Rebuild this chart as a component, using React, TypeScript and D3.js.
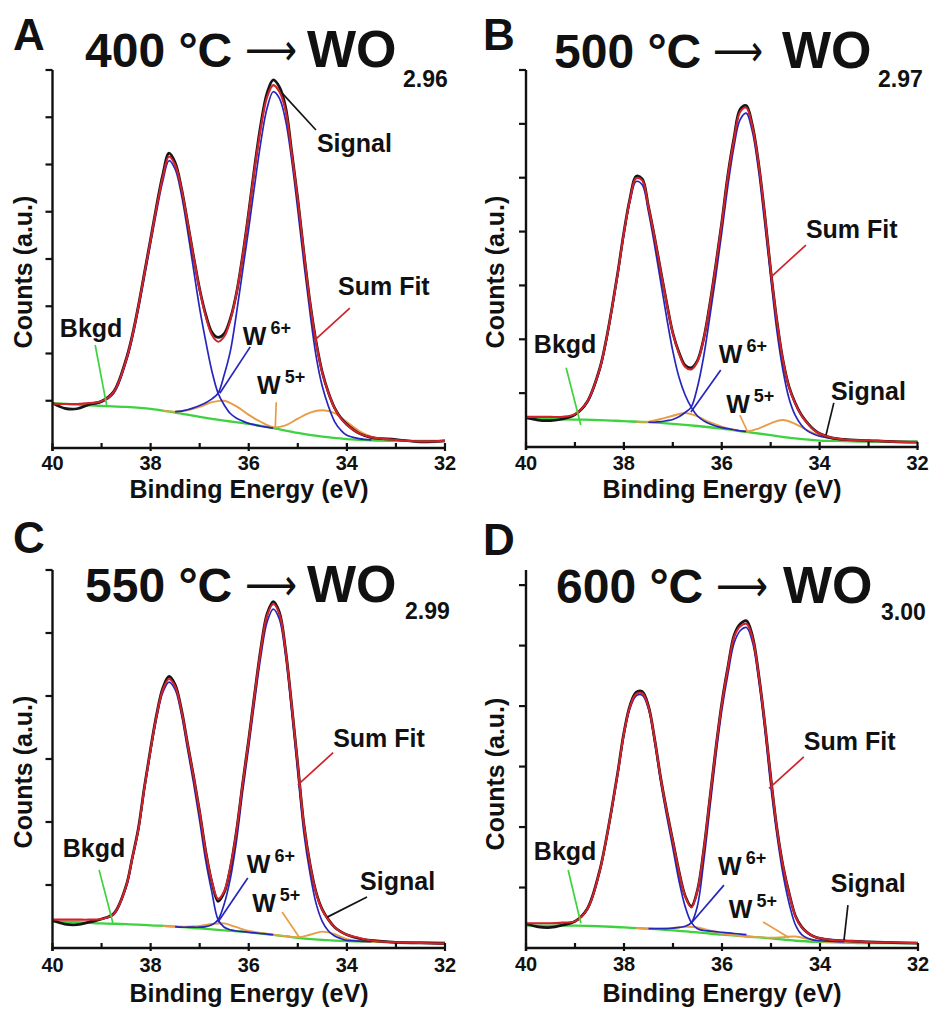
import React from "react";
import * as d3 from "d3";

// ---------- shared energy grids (eV) ----------
const energy = [40, 39.75, 39.5, 39.25, 39, 38.75, 38.5, 38.375, 38.25, 38.125, 38, 37.875, 37.75, 37.625, 37.5, 37.375, 37.25, 37.125, 37, 36.875, 36.75, 36.625, 36.5, 36.375, 36.25, 36.125, 36, 35.875, 35.75, 35.625, 35.5, 35.375, 35.25, 35.125, 35, 34.875, 34.75, 34.625, 34.5, 34.375, 34.25, 34.125, 34, 33.75, 33.5, 33, 32.5, 32];
const bkgdEnergy = [40, 39.5, 39, 38.5, 38, 37.5, 37, 36.5, 36, 35.5, 35, 34.5, 34, 33.5, 33, 32.5, 32];
const w5Energy = [37.75, 37.5, 37.25, 37, 36.75, 36.5, 36.25, 36, 35.75, 35.5, 35.25, 35, 34.75, 34.5, 34.25, 34, 33.75, 33.5, 33.25];
const xTicksMajor = [40, 38, 36, 34, 32];
const xTicksMinor = [39, 37, 35, 33];
const N = null;

// ---------- Panel A : 400 °C ----------
const sumFitA = [0.94, 0.93, 0.93, 0.95, 0.99, 1.19, 1.86, 2.36, 2.99, 3.70, 4.40, 5.11, 5.74, 6.17, 5.99, 5.50, 4.79, 4.05, 3.34, 2.78, 2.39, 2.25, 2.36, 2.71, 3.27, 4.05, 4.97, 5.95, 6.80, 7.43, 7.68, 7.54, 7.15, 6.24, 5.25, 4.12, 3.06, 2.22, 1.58, 1.16, 0.84, 0.63, 0.49, 0.31, 0.23, 0.17, 0.14, 0.15];
const signalA = [0.95, 0.84, 0.83, 0.92, 0.99, 1.20, 1.88, 2.38, 3.01, 3.72, 4.43, 5.15, 5.80, 6.24, 6.04, 5.52, 4.80, 4.06, 3.36, 2.82, 2.45, 2.34, 2.42, 2.74, 3.28, 4.07, 5.00, 6.00, 6.88, 7.52, 7.79, 7.64, 7.22, 6.28, 5.27, 4.13, 3.08, 2.24, 1.60, 1.17, 0.85, 0.64, 0.50, 0.31, 0.22, 0.18, 0.13, 0.15];
const w6LowA = [N, N, N, 0.92, 0.97, 1.16, 1.82, 2.31, 2.93, 3.63, 4.33, 5.03, 5.66, 6.08, 5.90, 5.38, 4.62, 3.78, 2.95, 2.25, 1.62, 1.16, 0.91, 0.73, 0.63, 0.57, 0.52, 0.49, 0.46, 0.44, 0.42, N, N, N, N, N, N, N, N, N, N, N, N, N, N, N, N, N];
const w6HighA = [N, N, N, N, N, N, N, N, N, N, N, N, N, N, 0.77, 0.78, 0.81, 0.85, 0.90, 0.96, 1.04, 1.16, 1.55, 2.05, 2.85, 3.75, 4.65, 5.60, 6.50, 7.20, 7.54, 7.40, 6.94, 6.10, 5.04, 3.91, 2.85, 1.93, 1.30, 0.88, 0.56, 0.38, 0.27, 0.20, 0.17, N, N, N];
const w5A = [0.79, 0.77, 0.80, 0.87, 0.97, 1.00, 0.88, 0.70, 0.55, 0.44, 0.48, 0.62, 0.75, 0.80, 0.74, 0.55, 0.36, 0.24, 0.18];
const bkgdA = [0.95, 0.92, 0.89, 0.87, 0.83, 0.75, 0.66, 0.58, 0.51, 0.42, 0.32, 0.24, 0.19, 0.16, 0.15, 0.15, 0.15];

// ---------- Panel B : 500 °C ----------
const sumFitB = [0.56, 0.56, 0.56, 0.56, 0.61, 0.84, 1.43, 1.92, 2.54, 3.22, 3.97, 4.59, 4.99, 4.95, 4.46, 3.90, 3.28, 2.67, 2.11, 1.74, 1.49, 1.44, 1.58, 1.98, 2.60, 3.34, 4.15, 5.02, 5.70, 6.22, 6.30, 5.95, 5.27, 4.34, 3.28, 2.35, 1.61, 1.11, 0.81, 0.59, 0.44, 0.32, 0.25, 0.17, 0.14, 0.12, 0.10, 0.09];
const signalB = [0.55, 0.50, 0.49, 0.52, 0.60, 0.84, 1.44, 1.93, 2.55, 3.24, 3.99, 4.62, 5.03, 4.98, 4.48, 3.91, 3.29, 2.68, 2.12, 1.76, 1.52, 1.47, 1.60, 1.99, 2.62, 3.36, 4.17, 5.05, 5.74, 6.27, 6.34, 5.98, 5.29, 4.35, 3.29, 2.36, 1.62, 1.12, 0.82, 0.60, 0.45, 0.33, 0.25, 0.17, 0.14, 0.12, 0.10, 0.09];
const w6LowB = [N, N, N, 0.55, 0.60, 0.82, 1.40, 1.89, 2.51, 3.19, 3.94, 4.56, 4.93, 4.87, 4.38, 3.76, 3.08, 2.40, 1.78, 1.30, 0.97, 0.74, 0.58, 0.49, 0.43, 0.39, 0.36, 0.34, 0.32, 0.30, 0.29, N, N, N, N, N, N, N, N, N, N, N, N, N, N, N, N, N];
const w6HighB = [N, N, N, N, N, N, N, N, N, N, N, N, N, N, 0.46, 0.46, 0.47, 0.49, 0.51, 0.56, 0.64, 0.74, 1.10, 1.65, 2.38, 3.15, 3.98, 4.85, 5.58, 6.08, 6.20, 5.86, 5.15, 4.18, 3.16, 2.17, 1.43, 0.90, 0.59, 0.41, 0.30, 0.24, 0.20, 0.16, 0.14, N, N, N];
const w5B = [0.47, 0.47, 0.52, 0.58, 0.63, 0.57, 0.46, 0.38, 0.32, 0.29, 0.34, 0.44, 0.50, 0.43, 0.31, 0.21, 0.16, 0.13, 0.12];
const bkgdB = [0.53, 0.52, 0.51, 0.50, 0.48, 0.46, 0.43, 0.39, 0.34, 0.28, 0.22, 0.16, 0.12, 0.11, 0.10, 0.10, 0.10];

// ---------- Panel C : 550 °C ----------
const sumFitC = [0.45, 0.45, 0.45, 0.45, 0.46, 0.54, 0.98, 1.42, 1.88, 2.55, 3.15, 3.70, 4.10, 4.27, 4.15, 3.78, 3.25, 2.72, 2.15, 1.52, 1.05, 0.78, 0.90, 1.28, 1.85, 2.60, 3.30, 4.05, 4.75, 5.28, 5.46, 5.30, 4.72, 3.85, 2.90, 1.95, 1.32, 0.87, 0.60, 0.45, 0.33, 0.26, 0.21, 0.16, 0.12, 0.09, 0.08, 0.07];
const signalC = [0.44, 0.38, 0.37, 0.41, 0.46, 0.55, 0.99, 1.43, 1.90, 2.57, 3.17, 3.72, 4.13, 4.31, 4.18, 3.80, 3.26, 2.73, 2.16, 1.53, 1.04, 0.74, 0.88, 1.27, 1.86, 2.61, 3.32, 4.07, 4.78, 5.31, 5.50, 5.33, 4.74, 3.86, 2.91, 1.96, 1.33, 0.88, 0.61, 0.45, 0.33, 0.26, 0.21, 0.15, 0.12, 0.09, 0.08, 0.07];
const w6LowC = [N, N, N, 0.44, 0.46, 0.53, 0.96, 1.40, 1.86, 2.52, 3.12, 3.66, 4.06, 4.22, 4.10, 3.72, 3.17, 2.62, 2.02, 1.38, 0.88, 0.45, 0.33, 0.29, 0.27, 0.26, 0.25, 0.24, 0.23, 0.22, 0.21, N, N, N, N, N, N, N, N, N, N, N, N, N, N, N, N, N];
const w6HighC = [N, N, N, N, N, N, N, N, N, N, N, N, N, N, 0.34, 0.33, 0.33, 0.33, 0.33, 0.34, 0.37, 0.45, 0.70, 1.10, 1.70, 2.48, 3.20, 3.95, 4.65, 5.18, 5.38, 5.22, 4.64, 3.75, 2.78, 1.82, 1.18, 0.70, 0.42, 0.27, 0.19, 0.15, 0.12, 0.11, 0.10, N, N, N];
const w5C = [0.35, 0.34, 0.34, 0.35, 0.38, 0.39, 0.33, 0.27, 0.24, 0.21, 0.19, 0.17, 0.21, 0.26, 0.22, 0.14, 0.11, 0.10, 0.10];
const bkgdC = [0.42, 0.41, 0.39, 0.38, 0.36, 0.34, 0.31, 0.28, 0.25, 0.21, 0.16, 0.13, 0.11, 0.10, 0.09, 0.09, 0.09];

// ---------- Panel D : 600 °C ----------
const sumFitD = [0.41, 0.41, 0.41, 0.42, 0.44, 0.64, 1.26, 1.74, 2.30, 2.90, 3.55, 4.00, 4.20, 4.21, 3.98, 3.45, 2.80, 2.25, 1.75, 1.25, 0.85, 0.67, 0.95, 1.60, 2.45, 3.30, 4.05, 4.65, 5.15, 5.32, 5.36, 5.12, 4.50, 3.70, 2.78, 1.95, 1.33, 0.88, 0.52, 0.34, 0.25, 0.19, 0.16, 0.13, 0.12, 0.10, 0.09, 0.08];
const signalD = [0.40, 0.35, 0.34, 0.38, 0.44, 0.65, 1.27, 1.75, 2.31, 2.92, 3.57, 4.02, 4.23, 4.24, 4.00, 3.46, 2.81, 2.26, 1.76, 1.26, 0.86, 0.69, 0.96, 1.61, 2.46, 3.31, 4.07, 4.67, 5.18, 5.36, 5.41, 5.15, 4.52, 3.71, 2.79, 1.96, 1.34, 0.89, 0.53, 0.35, 0.25, 0.19, 0.16, 0.13, 0.12, 0.10, 0.09, 0.08];
const w6LowD = [N, N, N, 0.41, 0.44, 0.63, 1.24, 1.72, 2.27, 2.88, 3.52, 3.97, 4.17, 4.18, 3.95, 3.40, 2.74, 2.17, 1.64, 1.10, 0.68, 0.42, 0.32, 0.29, 0.28, 0.27, 0.26, 0.25, 0.24, 0.23, 0.22, N, N, N, N, N, N, N, N, N, N, N, N, N, N, N, N, N];
const w6HighD = [N, N, N, N, N, N, N, N, N, N, N, N, N, N, 0.32, 0.32, 0.32, 0.32, 0.33, 0.34, 0.36, 0.42, 0.70, 1.42, 2.30, 3.18, 3.95, 4.55, 5.05, 5.25, 5.30, 5.05, 4.42, 3.60, 2.65, 1.85, 1.20, 0.72, 0.38, 0.22, 0.16, 0.13, 0.12, 0.11, 0.10, N, N, N];
const w5D = [0.33, 0.32, 0.32, 0.33, 0.35, 0.34, 0.29, 0.24, 0.21, 0.19, 0.18, 0.17, 0.18, 0.19, 0.15, 0.11, 0.10, 0.09, 0.09];
const bkgdD = [0.37, 0.37, 0.37, 0.36, 0.34, 0.32, 0.29, 0.26, 0.22, 0.19, 0.16, 0.12, 0.10, 0.09, 0.08, 0.08, 0.08];

// ---------- panel titles ----------
const panelLetters = ["A", "B", "C", "D"];
const temperatures = ["400", "500", "550", "600"];
const stoichiometry = ["2.96", "2.97", "2.99", "3.00"];

const FONT = "'Liberation Sans', Arial, Helvetica, sans-serif";
const COL = {
  signal: "#151515",
  fit: "#d2222a",
  w6: "#2626bd",
  w5: "#e89d45",
  bkgd: "#3ed23e",
};

type Ann = { key: string; text: string; sup?: string; at: [number, number]; from: [number, number]; to: [number, number] };

const panels = [
  {
    i: 0, x0: 52.5, x1: 445, yTop: 70, yBottom: 448, yMax: 8, yTicks: [1, 2, 3, 4, 5, 6, 7, 8],
    data: { signal: signalA, fit: sumFitA, w6a: w6LowA, w6b: w6HighA, w5: w5A, bkgd: bkgdA },
    letterPos: [13, 50], title: { x: 85, arrow: 245, arrowW: 52, wo: 307, sub: 403, base: 67, subBase: 87 },
    yTitle: [32, 272], xTitle: [249, 498], tickBase: 470,
    ann: [
      { key: "signal", text: "Signal", at: [34.61, 6.26], from: [34.63, 6.73], to: [35.32, 7.51] },
      { key: "fit", text: "Sum Fit", at: [34.18, 3.24], from: [33.94, 2.96], to: [34.65, 2.29] },
      { key: "w6", text: "W", sup: "6+", at: [36.12, 2.18], from: [35.97, 2.14], to: [36.59, 1.16] },
      { key: "w5", text: "W", sup: "5+", at: [35.83, 1.14], from: [35.44, 0.97], to: [35.46, 0.42] },
      { key: "bkgd", text: "Bkgd", at: [39.85, 2.35], from: [39.13, 2.18], to: [38.89, 0.87] },
    ] as Ann[],
  },
  {
    i: 1, x0: 526, x1: 917.5, yTop: 70, yBottom: 447, yMax: 7, yTicks: [1, 2, 3, 4, 5, 6, 7],
    data: { signal: signalB, fit: sumFitB, w6a: w6LowB, w6b: w6HighB, w5: w5B, bkgd: bkgdB },
    letterPos: [483, 50], title: { x: 554, arrow: 713, arrowW: 50, wo: 782, sub: 878, base: 68, subBase: 87 },
    yTitle: [504, 272], xTitle: [722, 498], tickBase: 470,
    ann: [
      { key: "fit", text: "Sum Fit", at: [34.28, 3.88], from: [34.28, 3.75], to: [34.99, 3.16] },
      { key: "bkgd", text: "Bkgd", at: [39.84, 1.75], from: [39.18, 1.47], to: [38.88, 0.41] },
      { key: "w6", text: "W", sup: "6+", at: [36.06, 1.56], from: [36.02, 1.43], to: [36.63, 0.65] },
      { key: "w5", text: "W", sup: "5+", at: [35.91, 0.63], from: [35.63, 0.59], to: [35.46, 0.26] },
      { key: "signal", text: "Signal", at: [33.77, 0.87], from: [33.71, 0.82], to: [33.87, 0.22] },
    ] as Ann[],
  },
  {
    i: 2, x0: 52.5, x1: 445, yTop: 570, yBottom: 948, yMax: 6, yTicks: [1, 2, 3, 4, 5, 6],
    data: { signal: signalC, fit: sumFitC, w6a: w6LowC, w6b: w6HighC, w5: w5C, bkgd: bkgdC },
    letterPos: [13, 553], title: { x: 85, arrow: 245, arrowW: 52, wo: 307, sub: 405, base: 602, subBase: 619 },
    yTitle: [32, 772], xTitle: [249, 1002], tickBase: 972,
    ann: [
      { key: "fit", text: "Sum Fit", at: [34.28, 3.19], from: [34.28, 3.10], to: [35.0, 2.59] },
      { key: "bkgd", text: "Bkgd", at: [39.79, 1.44], from: [39.05, 1.24], to: [38.77, 0.40] },
      { key: "w6", text: "W", sup: "6+", at: [36.04, 1.19], from: [36.02, 1.11], to: [36.63, 0.41] },
      { key: "w5", text: "W", sup: "5+", at: [35.93, 0.57], from: [35.32, 0.57], to: [34.96, 0.16] },
      { key: "signal", text: "Signal", at: [33.73, 0.92], from: [33.59, 0.81], to: [34.40, 0.49] },
    ] as Ann[],
  },
  {
    i: 3, x0: 526, x1: 918, yTop: 570, yBottom: 948, yMax: 6.25, yTicks: [1, 2, 3, 4, 5, 6],
    data: { signal: signalD, fit: sumFitD, w6a: w6LowD, w6b: w6HighD, w5: w5D, bkgd: bkgdD },
    letterPos: [483, 555], title: { x: 556, arrow: 716, arrowW: 52, wo: 783, sub: 881, base: 603, subBase: 620 },
    yTitle: [504, 774], xTitle: [722, 1002], tickBase: 971,
    ann: [
      { key: "fit", text: "Sum Fit", at: [34.33, 3.27], from: [34.33, 3.16], to: [35.04, 2.64] },
      { key: "bkgd", text: "Bkgd", at: [39.84, 1.45], from: [39.14, 1.29], to: [38.88, 0.41] },
      { key: "w6", text: "W", sup: "6+", at: [36.08, 1.21], from: [35.96, 1.04], to: [36.63, 0.41] },
      { key: "w5", text: "W", sup: "5+", at: [35.86, 0.50], from: [35.16, 0.43], to: [34.63, 0.17] },
      { key: "signal", text: "Signal", at: [33.78, 0.93], from: [33.43, 0.71], to: [33.51, 0.13] },
    ] as Ann[],
  },
];

function Panel({ p }: { p: any }) {
  const x = d3.scaleLinear().domain([40, 32]).range([p.x0, p.x1]);
  const y = d3.scaleLinear().domain([0, p.yMax]).range([p.yBottom, p.yTop]);
  const mk = (xs: number[], ys: (number | null)[]) => {
    const pts = xs.map((e, k) => [e, ys[k]] as [number, number | null]);
    return d3
      .line<[number, number | null]>()
      .defined((d) => d[1] != null)
      .x((d) => x(d[0]))
      .y((d) => y(d[1] as number))
      .curve(d3.curveCatmullRom.alpha(0.5))(pts) || "";
  };
  const d = p.data;
  const t = p.title;
  return (
    <g>
      {/* curves */}
      <path d={mk(bkgdEnergy, d.bkgd)} fill="none" stroke={COL.bkgd} strokeWidth={2.3} />
      <path d={mk(w5Energy, d.w5)} fill="none" stroke={COL.w5} strokeWidth={1.9} />
      <path d={mk(energy, d.w6a)} fill="none" stroke={COL.w6} strokeWidth={1.7} />
      <path d={mk(energy, d.w6b)} fill="none" stroke={COL.w6} strokeWidth={1.7} />
      <path d={mk(energy, d.signal)} fill="none" stroke={COL.signal} strokeWidth={2.7} />
      <path d={mk(energy, d.fit)} fill="none" stroke={COL.fit} strokeWidth={2.1} />

      {/* annotations */}
      {p.ann.map((a: Ann) => (
        <g key={a.key}>
          <line x1={x(a.from[0])} y1={y(a.from[1])} x2={x(a.to[0])} y2={y(a.to[1])}
            stroke={(COL as any)[a.key]} strokeWidth={1.7} />
          <text x={x(a.at[0])} y={y(a.at[1])} fontFamily={FONT} fontWeight="bold"
            fontSize={25} fill="#111">
            {a.text}
            {a.sup ? <tspan dx={4} dy={-11} fontSize={18}>{a.sup}</tspan> : null}
          </text>
        </g>
      ))}

      {/* axes */}
      <line x1={p.x0} y1={p.yTop} x2={p.x0} y2={p.yBottom + 3} stroke="#111" strokeWidth={2.4} />
      <line x1={p.x0 - 1} y1={p.yBottom} x2={p.x1 + 1} y2={p.yBottom} stroke="#111" strokeWidth={2.4} />
      {p.yTicks.map((v: number) => (
        <line key={"yt" + v} x1={p.x0 - 7} y1={y(v)} x2={p.x0} y2={y(v)} stroke="#111" strokeWidth={2.2} />
      ))}
      {xTicksMajor.map((e) => (
        <line key={"xm" + e} x1={x(e)} y1={p.yBottom - 5} x2={x(e)} y2={p.yBottom + 3} stroke="#111" strokeWidth={2.2} />
      ))}
      {xTicksMinor.map((e) => (
        <line key={"xn" + e} x1={x(e)} y1={p.yBottom - 5} x2={x(e)} y2={p.yBottom} stroke="#111" strokeWidth={2.2} />
      ))}
      {xTicksMajor.map((e) => (
        <text key={"xl" + e} x={x(e)} y={p.tickBase} textAnchor="middle" fontFamily={FONT}
          fontWeight="bold" fontSize={20} fill="#111">{e}</text>
      ))}

      {/* axis titles */}
      <text x={p.xTitle[0]} y={p.xTitle[1]} textAnchor="middle" fontFamily={FONT} fontWeight="bold"
        fontSize={25} fill="#111">Binding Energy (eV)</text>
      <text transform={`translate(${p.yTitle[0]},${p.yTitle[1]}) rotate(-90)`} textAnchor="middle"
        fontFamily={FONT} fontWeight="bold" fontSize={25} fill="#111">Counts (a.u.)</text>

      {/* panel letter and title */}
      <text x={p.letterPos[0]} y={p.letterPos[1]} fontFamily={FONT} fontWeight="bold" fontSize={44} fill="#111">
        {panelLetters[p.i]}
      </text>
      <text x={t.x} y={t.base} fontFamily={FONT} fontWeight="bold" fontSize={48} fill="#111">
        {temperatures[p.i] + " °C"}
      </text>
      <text x={t.arrow} y={t.base - 2} fontFamily="'DejaVu Sans', sans-serif" fontSize={44} fill="#111"
        textLength={t.arrowW} lengthAdjust="spacingAndGlyphs">⟶</text>
      <text x={t.wo} y={t.base} fontFamily={FONT} fontWeight="bold" fontSize={52} fill="#111">WO</text>
      <text x={t.sub} y={t.subBase} fontFamily={FONT} fontWeight="bold" fontSize={23} fill="#111">
        {stoichiometry[p.i]}
      </text>
    </g>
  );
}

export default function App() {
  return (
    <svg width={933} height={1015} viewBox="0 0 933 1015"
      style={{ position: "absolute", left: 0, top: 0, display: "block", background: "#fff" }}>
      <rect x={0} y={0} width={933} height={1015} fill="#fff" />
      {panels.map((p) => (
        <Panel key={p.i} p={p} />
      ))}
    </svg>
  );
}
